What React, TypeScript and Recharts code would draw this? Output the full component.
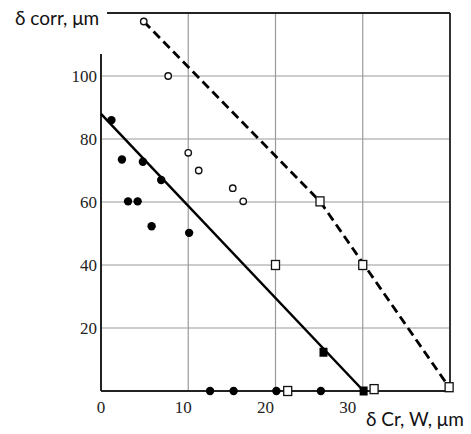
import { ScatterChart, Scatter, XAxis, YAxis, CartesianGrid, ReferenceLine } from 'recharts'

// solid markers (filled circles / squares) and the fitted solid line
const filledCircleX = [1.2, 2.4, 4.8, 6.9, 3.1, 4.2, 5.8, 10.1, 12.5, 15.2, 20.1, 25.2]
const filledCircleY = [86, 73.5, 72.8, 67, 60.2, 60.2, 52.3, 50.2, 0, 0, 0, 0]
const filledSquareX = [25.5, 30.1]
const filledSquareY = [12.3, 0]

// open markers (circles / squares) and the dashed envelope
const openCircleX = [4.9, 7.7, 10.0, 11.2, 15.1, 16.3]
const openCircleY = [117.3, 100, 75.6, 70, 64.4, 60.2]
const openSquareX = [25.1, 20, 30, 21.4, 31.3, 39.9]
const openSquareY = [60.2, 40, 40, 0, 0.6, 1.2]

const solidLineX = [0, 30.1]
const solidLineY = [88, 0]
const dashedLineX = [4.9, 25.1, 39.9]
const dashedLineY = [117.3, 60.2, 1.2]

const xTicks = [0, 10, 20, 30]
const yTicks = [20, 40, 60, 80, 100]

const zip = (xs: number[], ys: number[]) => xs.map((x, i) => ({ x, y: ys[i] }))

const filledCircles = zip(filledCircleX, filledCircleY)
const filledSquares = zip(filledSquareX, filledSquareY)
const openCircles = zip(openCircleX, openCircleY)
const openSquares = zip(openSquareX, openSquareY)
const solidLine = zip(solidLineX, solidLineY)
const dashedLine = zip(dashedLineX, dashedLineY)

const tickFont = '"Liberation Serif", "Times New Roman", serif'
const titleFont = 'Lato, "Open Sans", sans-serif'

const Empty = () => <g />

const FilledCircle = (props: any) => <circle cx={props.cx} cy={props.cy} r={4.2} fill="#000" />
const FilledSquare = (props: any) => (
  <rect x={props.cx - 4} y={props.cy - 4.5} width={8} height={9} fill="#000" />
)
const OpenCircle = (props: any) => (
  <circle cx={props.cx} cy={props.cy} r={3.2} fill="#fff" stroke="#111" strokeWidth={1.4} />
)
const OpenSquare = (props: any) => (
  <rect x={props.cx - 4} y={props.cy - 4.5} width={8} height={9} fill="#fff" stroke="#111" strokeWidth={1.3} />
)

// the printed x labels drift left of their grid lines, as in the source figure
const XTick = (props: any) => {
  const { x, y, payload } = props
  return (
    <text x={x - payload.value / 2} y={y} dy="0.71em" textAnchor="middle" fontFamily={tickFont} fontSize={17} fill="#222">
      {payload.value}
    </text>
  )
}

export default function App() {
  return (
    <div style={{ position: 'absolute', left: 0, top: 0, width: 471, height: 434, background: '#fff' }}>
      <ScatterChart width={471} height={434} margin={{ top: 13, right: 21, bottom: 0, left: 0 }}>
        <CartesianGrid stroke="#9a9a9a" strokeWidth={1.2} />
        <XAxis
          type="number"
          dataKey="x"
          domain={[0, 40]}
          ticks={xTicks}
          height={43}
          tickSize={0}
          tickMargin={10}
          tick={<XTick />}
          axisLine={{ stroke: '#222', strokeWidth: 2 }}
        />
        <YAxis
          type="number"
          dataKey="y"
          domain={[0, 120]}
          ticks={yTicks}
          width={101}
          tickSize={0}
          tickMargin={4}
          tick={{ fontFamily: tickFont, fontSize: 17, fill: '#222' }}
          axisLine={{ stroke: '#222', strokeWidth: 2 }}
        />
        <ReferenceLine x={40} stroke="#333" strokeWidth={2} />
        <ReferenceLine y={120} stroke="#222" strokeWidth={2} />
        <Scatter data={solidLine} line={{ stroke: '#000', strokeWidth: 2.5 }} shape={<Empty />} isAnimationActive={false} />
        <Scatter
          data={dashedLine}
          line={{ stroke: '#000', strokeWidth: 2.8, strokeDasharray: '9 5' }}
          shape={<Empty />}
          isAnimationActive={false}
        />
        <Scatter data={filledCircles} shape={<FilledCircle />} isAnimationActive={false} />
        <Scatter data={filledSquares} shape={<FilledSquare />} isAnimationActive={false} />
        <Scatter data={openCircles} shape={<OpenCircle />} isAnimationActive={false} />
        <Scatter data={openSquares} shape={<OpenSquare />} isAnimationActive={false} />
      </ScatterChart>
      <svg width={471} height={434} style={{ position: 'absolute', left: 0, top: 0, pointerEvents: 'none' }}>
        <rect x={0} y={0} width={107} height={54} fill="#fff" />
        <text x={15} y={25} fontFamily={titleFont} fontSize={19} fill="#111">
          δ corr, μm
        </text>
        <text x={366} y={426} fontFamily={titleFont} fontSize={19} fill="#111">
          δ Cr, W, μm
        </text>
      </svg>
    </div>
  )
}
